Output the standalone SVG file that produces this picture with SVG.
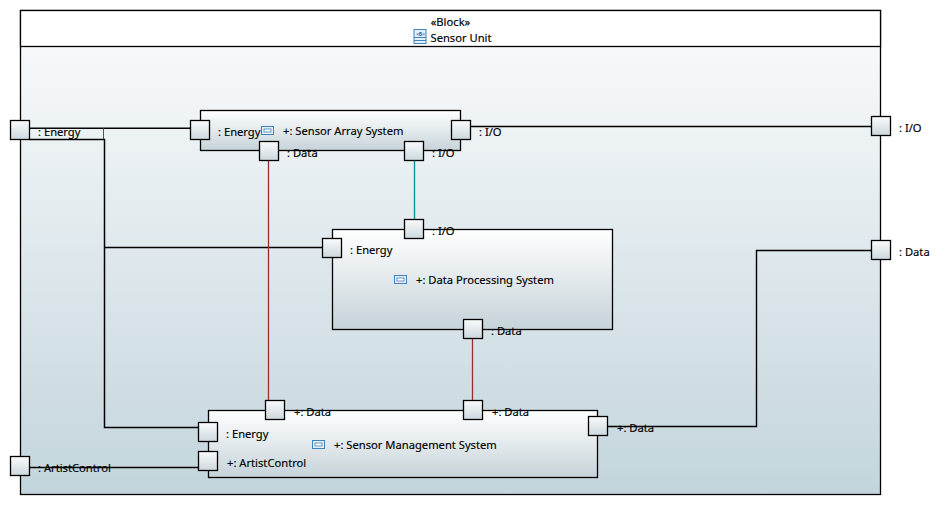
<svg xmlns="http://www.w3.org/2000/svg" width="940" height="505" viewBox="0 0 940 505">
<style>
text{font-family:"Noto Sans","Open Sans","Liberation Sans",sans-serif;font-size:11.2px;fill:#000;stroke:#000;stroke-width:0.15}
.box{stroke:#000;stroke-width:1.3;fill:url(#nodeGrad)}
.port{stroke:#000;stroke-width:1.3;fill:url(#portGrad)}
.wire{fill:none;stroke:#000;stroke-width:1.4}
.wire2{fill:none;stroke:#000;stroke-width:1.5}
.thin{fill:none;stroke:#555;stroke-width:1}
.red{fill:none;stroke:#963030;stroke-width:1.3}
.teal{fill:none;stroke:#0f9499;stroke-width:1.4}
.icon{fill:#e4f0f8;stroke:#3f82bd;stroke-width:1}
.tiny{font-size:5px;fill:#2a6ca8;stroke:none;font-weight:bold}
</style>
<defs>
<linearGradient id="bodyGrad" x1="0" y1="0" x2="0" y2="1"><stop offset="0" stop-color="#fbfcfd"/><stop offset="1" stop-color="#c3d5dc"/></linearGradient>
<linearGradient id="nodeGrad" x1="0" y1="0" x2="0" y2="1"><stop offset="0" stop-color="#ffffff"/><stop offset="1" stop-color="#c6d3d9"/></linearGradient>
<linearGradient id="portGrad" x1="0" y1="0" x2="0" y2="1"><stop offset="0" stop-color="#fafbfc"/><stop offset="1" stop-color="#ccd8dd"/></linearGradient>
<g id="partIcon"><rect class="icon" x="0.5" y="0.5" width="12" height="8"/><rect x="3" y="3" width="7" height="3" fill="#fff" stroke="#3f82bd" stroke-width="0.8"/></g>
</defs>
<g id="sensor-unit">
<rect x="20.500" y="10.500" width="860" height="484" fill="url(#bodyGrad)" stroke="#000" stroke-width="1.3"/>
<rect x="20.500" y="10.500" width="860" height="36" fill="#fff" stroke="#000" stroke-width="1.3"/>
<text x="450.500" y="26" text-anchor="middle">«Block»</text>
<rect x="414" y="29.500" width="12" height="14" fill="#e4f0f8" stroke="#3f82bd"/>
<path d="M414 37.500H426M414 40.500H426" stroke="#3f82bd" fill="none"/>
<text class="tiny" x="416" y="35.500">&lt;B&gt;</text>
<text x="430.500" y="42">Sensor Unit</text>
</g>
<g id="sensor-array-system">
<rect class="box" x="200.500" y="110.500" width="260" height="40"/>
<use href="#partIcon" x="261" y="126"/>
<text x="283" y="135">+: Sensor Array System</text>
</g>
<g id="data-processing-system">
<rect class="box" x="332.500" y="229.500" width="280" height="100"/>
<use href="#partIcon" x="394" y="275"/>
<text x="416" y="284">+: Data Processing System</text>
</g>
<g id="sensor-management-system">
<rect class="box" x="208.500" y="410.500" width="389" height="67"/>
<use href="#partIcon" x="312" y="440"/>
<text x="334" y="449">+: Sensor Management System</text>
</g>
<g id="connectors">
<path class="wire" d="M29.500 128.300H190.500"/>
<path class="thin" d="M103.500 128.500V139"/>
<path class="wire2" d="M29.500 139.500H104.500V427.500H198.500"/>
<path class="wire" d="M104.500 247.500H322.500"/>
<path class="wire" d="M470.500 126.500H871.500"/>
<path class="wire" d="M607.500 426.500H756.500V250.500H871.500"/>
<path class="wire" d="M29.500 467.500H198.500"/>
<path class="red" d="M268.500 160V400.500"/>
<path class="red" d="M472.500 338V400.500"/>
<path class="teal" d="M414.500 160V219.500"/>
</g>
<g id="port-energy-outer"><rect class="port" x="10.500" y="120.500" width="19" height="19"/><text x="38" y="136">: Energy</text></g>
<g id="port-artist-outer"><rect class="port" x="10.500" y="456.500" width="19" height="19"/><text x="38" y="472">: ArtistControl</text></g>
<g id="port-io-outer"><rect class="port" x="871.500" y="116.500" width="19" height="19"/><text x="899" y="132">: I/O</text></g>
<g id="port-data-outer"><rect class="port" x="871.500" y="240.500" width="19" height="19"/><text x="899" y="256">: Data</text></g>
<g id="port-array-energy"><rect class="port" x="190.500" y="120.500" width="19" height="19"/><text x="218" y="136">: Energy</text></g>
<g id="port-array-data"><rect class="port" x="259.500" y="141.500" width="19" height="19"/><text x="287" y="157">: Data</text></g>
<g id="port-array-io-bottom"><rect class="port" x="404.500" y="141.500" width="19" height="19"/><text x="432" y="157">: I/O</text></g>
<g id="port-array-io-right"><rect class="port" x="451.500" y="120.500" width="19" height="19"/><text x="479" y="136">: I/O</text></g>
<g id="port-proc-io"><rect class="port" x="404.500" y="219.500" width="19" height="19"/><text x="432" y="235">: I/O</text></g>
<g id="port-proc-energy"><rect class="port" x="322.500" y="238.500" width="19" height="19"/><text x="350" y="254">: Energy</text></g>
<g id="port-proc-data"><rect class="port" x="463.500" y="319.500" width="19" height="19"/><text x="491" y="335">: Data</text></g>
<g id="port-mgmt-data1"><rect class="port" x="265.500" y="400.500" width="19" height="19"/><text x="294" y="416">+: Data</text></g>
<g id="port-mgmt-data2"><rect class="port" x="463.500" y="400.500" width="19" height="19"/><text x="492" y="416">+: Data</text></g>
<g id="port-mgmt-data3"><rect class="port" x="588.500" y="416.500" width="19" height="19"/><text x="617" y="432">+: Data</text></g>
<g id="port-mgmt-energy"><rect class="port" x="198.500" y="422.500" width="19" height="19"/><text x="226" y="438">: Energy</text></g>
<g id="port-mgmt-artist"><rect class="port" x="198.500" y="451.500" width="19" height="19"/><text x="227" y="467">+: ArtistControl</text></g>
</svg>
